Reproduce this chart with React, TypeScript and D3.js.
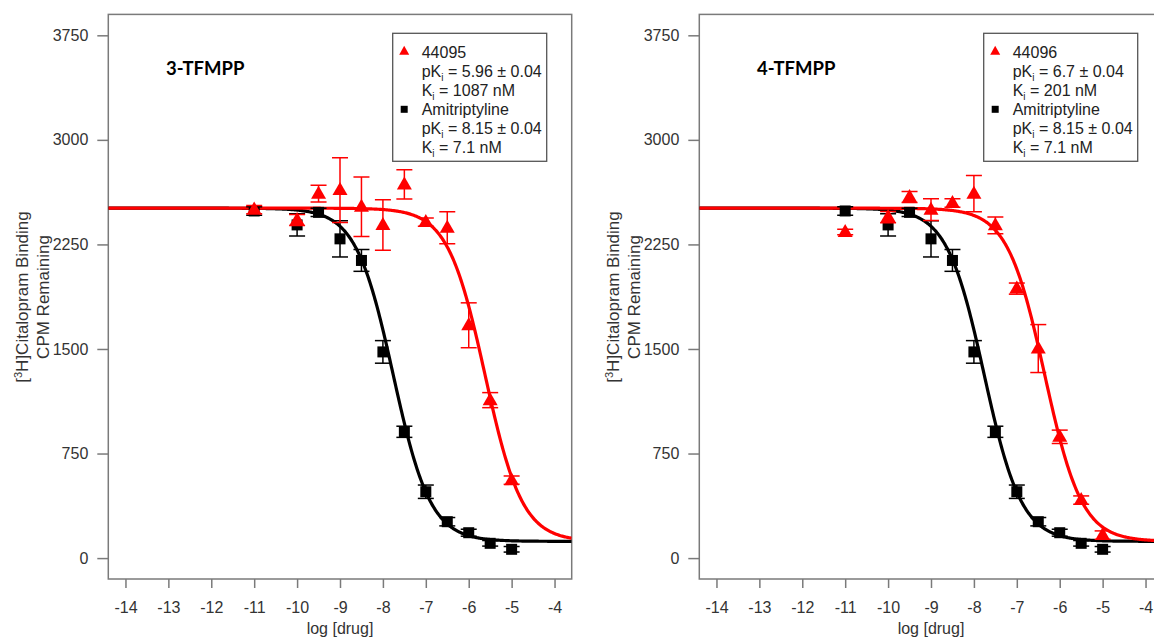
import * as d3 from 'd3';
import React, { useRef, useEffect } from 'react';

// log [drug] concentrations tested
const logDose = [-11, -10, -9.5, -9, -8.5, -8, -7.5, -7, -6.5, -6, -5.5, -5];

// Amitriptyline (reference, same in both panels)
const amiValues = [2490, 2390, 2480, 2290, 2135, 1479, 906, 476, 261, 182, 106, 63];
const amiErrors = [30, 80, 30, 130, 78, 81, 40, 48, 30, 25, 20, 20];

// 44095 (3-TFMPP)
const c44095Values = [2500, 2425, 2614, 2640, 2520, 2390, 2680, 2410, 2370, 1670, 1133, 559];
const c44095Errors = [30, 40, 60, 232, 213, 181, 105, 30, 115, 161, 54, 30];

// 44096 (4-TFMPP)
const c44096Values = [2339, 2446, 2590, 2499, 2547, 2614, 2387, 1933, 1503, 870, 416, 165];
const c44096Errors = [20, 40, 40, 78, 30, 130, 60, 40, 172, 48, 30, 30];

// fitted one-site competition curves
const fitTop = 2510;
const fitBottom = 120;
const fitHill = 1;
const amiLogIC50 = -7.76;
const c44095LogIC50 = -5.62;
const c44096LogIC50 = -6.35;

const xTicks = [-14, -13, -12, -11, -10, -9, -8, -7, -6, -5, -4];
const yTicks = [0, 750, 1500, 2250, 3000, 3750];

const panels = [
  { dx: 0, title: '3-TFMPP', name: '44095', values: c44095Values, errors: c44095Errors, ic50: c44095LogIC50, pKi: '5.96', Ki: '1087' },
  { dx: 591, title: '4-TFMPP', name: '44096', values: c44096Values, errors: c44096Errors, ic50: c44096LogIC50, pKi: '6.7', Ki: '201' },
];

const FONT = '"Liberation Sans", Arial, sans-serif';
const RED = '#ff0000';

const logistic = (x: number, ic50: number) =>
  fitBottom + (fitTop - fitBottom) / (1 + Math.pow(10, (x - ic50) * fitHill));

const App = () => {
  const ref = useRef<SVGSVGElement>(null);

  useEffect(() => {
    const svg = d3.select(ref.current);
    svg.selectAll('*').remove();

    const x = d3.scaleLinear().domain([-14.4, -3.6]).range([108.3, 571.7]);
    const y = d3.scaleLinear().domain([-150, 3900]).range([579, 14.4]);
    const [x0, x1] = x.range();
    const [y1, y0] = y.range();

    const tri = 'M0,-8 L7.5,5 L-7.5,5 Z';
    const triSmall = 'M0,-5.5 L5,3.5 L-5,3.5 Z';

    panels.forEach((p, pi) => {
      const g = svg.append('g').attr('transform', `translate(${p.dx},0)`);
      const clipId = `clip${pi}`;
      g.append('clipPath').attr('id', clipId)
        .append('rect').attr('x', x0).attr('y', y0).attr('width', x1 - x0).attr('height', y1 - y0);

      // axes (plain hyphen minus, as in the original)
      const xa = g.append('g').attr('transform', `translate(0,${y1})`)
        .call(d3.axisBottom(x).tickValues(xTicks).tickSize(9).tickPadding(14).tickFormat(d => String(d)));
      const ya = g.append('g').attr('transform', `translate(${x0},0)`)
        .call(d3.axisLeft(y).tickValues(yTicks).tickSize(11).tickPadding(9).tickFormat(d => String(d)));
      [xa, ya].forEach(a => {
        a.select('.domain').remove();
        a.selectAll('line').attr('stroke', '#7a7a7a').attr('stroke-width', 1.5);
        a.selectAll('text').attr('fill', '#333').style('font-family', FONT).style('font-size', '16px');
      });

      // box
      g.append('rect').attr('x', x0).attr('y', y0).attr('width', x1 - x0).attr('height', y1 - y0)
        .attr('fill', 'none').attr('stroke', '#7a7a7a').attr('stroke-width', 1.5);

      // axis titles
      g.append('text').attr('x', (x0 + x1) / 2).attr('y', 634).attr('text-anchor', 'middle')
        .attr('fill', '#333').style('font-family', FONT).style('font-size', '16px').text('log [drug]');
      const yl1 = g.append('text').attr('transform', 'translate(22,297) rotate(-90)')
        .attr('text-anchor', 'middle').attr('dy', '0.35em').attr('fill', '#333')
        .style('font-family', FONT).style('font-size', '17px');
      yl1.append('tspan').text('[');
      yl1.append('tspan').attr('dy', -6).style('font-size', '11px').text('3');
      yl1.append('tspan').attr('dy', 6).text('H]Citalopram Binding');
      g.append('text').attr('transform', 'translate(43,297) rotate(-90)')
        .attr('text-anchor', 'middle').attr('dy', '0.35em').attr('fill', '#333')
        .style('font-family', FONT).style('font-size', '17px').text('CPM Remaining');

      // panel title
      g.append('text').attr('x', 166).attr('y', 75).attr('fill', '#000')
        .style('font-family', 'Lato, sans-serif').style('font-weight', 'bold').style('font-size', '18.5px')
        .text(p.title);

      const plot = g.append('g').attr('clip-path', `url(#${clipId})`);
      const curveX = d3.range(-14.4, -3.6 + 1e-9, 0.02);
      const line = d3.line<number>().x(d => x(d));

      const series = [
        { values: amiValues, errors: amiErrors, ic50: amiLogIC50, color: '#000', shape: 'sq' },
        { values: p.values, errors: p.errors, ic50: p.ic50, color: RED, shape: 'tri' },
      ];

      series.forEach(s => {
        plot.append('path').datum(curveX)
          .attr('d', line.y(d => y(logistic(d, s.ic50))))
          .attr('fill', 'none').attr('stroke', s.color).attr('stroke-width', 3.2);
      });

      series.forEach(s => {
        const pts = logDose.map((d, i) => ({ x: d, v: s.values[i], e: s.errors[i] }));
        const eb = plot.append('g').attr('stroke', s.color).attr('stroke-width', 1.5);
        pts.forEach(d => {
          const cx = x(d.x), top = y(d.v + d.e), bot = y(d.v - d.e);
          eb.append('line').attr('x1', cx).attr('x2', cx).attr('y1', top).attr('y2', bot);
          eb.append('line').attr('x1', cx - 8).attr('x2', cx + 8).attr('y1', top).attr('y2', top);
          eb.append('line').attr('x1', cx - 8).attr('x2', cx + 8).attr('y1', bot).attr('y2', bot);
        });
        if (s.shape === 'tri') {
          plot.selectAll(null).data(pts).enter().append('path')
            .attr('d', tri).attr('fill', s.color)
            .attr('transform', d => `translate(${x(d.x)},${y(d.v)})`);
        } else {
          plot.selectAll(null).data(pts).enter().append('rect')
            .attr('x', d => x(d.x) - 5.5).attr('y', d => y(d.v) - 5.5)
            .attr('width', 11).attr('height', 11).attr('fill', s.color);
        }
      });

      // legend
      const lx = 392.7, ly = 33.3;
      g.append('rect').attr('x', lx).attr('y', ly).attr('width', 154).attr('height', 128)
        .attr('fill', '#fff').attr('stroke', '#555').attr('stroke-width', 1.3);
      g.append('path').attr('d', triSmall).attr('fill', RED)
        .attr('transform', `translate(${lx + 11.5},${ly + 18})`);
      g.append('rect').attr('x', lx + 8).attr('y', ly + 72.5).attr('width', 7).attr('height', 7).attr('fill', '#000');

      const lines: [string, string, string][] = [
        ['', '', p.name],
        ['pK', 'i', ` = ${p.pKi} \u00b1 0.04`],
        ['K', 'i', ` = ${p.Ki} nM`],
        ['', '', 'Amitriptyline'],
        ['pK', 'i', ' = 8.15 \u00b1 0.04'],
        ['K', 'i', ' = 7.1 nM'],
      ];
      lines.forEach((l, i) => {
        const t = g.append('text').attr('x', lx + 29).attr('y', ly + 19.5 + i * 19).attr('dy', '0.35em')
          .attr('fill', '#222').style('font-family', FONT).style('font-size', '16px');
        if (l[1]) {
          t.append('tspan').text(l[0]);
          t.append('tspan').attr('dy', 4).style('font-size', '10px').text(l[1]);
          t.append('tspan').attr('dy', -4).text(l[2]);
        } else {
          t.text(l[2]);
        }
      });
    });
  }, []);

  return (
    <svg ref={ref} width={1154} height={639}
      style={{ position: 'absolute', left: 0, top: 0, background: '#fff' }} />
  );
};

export default App;
